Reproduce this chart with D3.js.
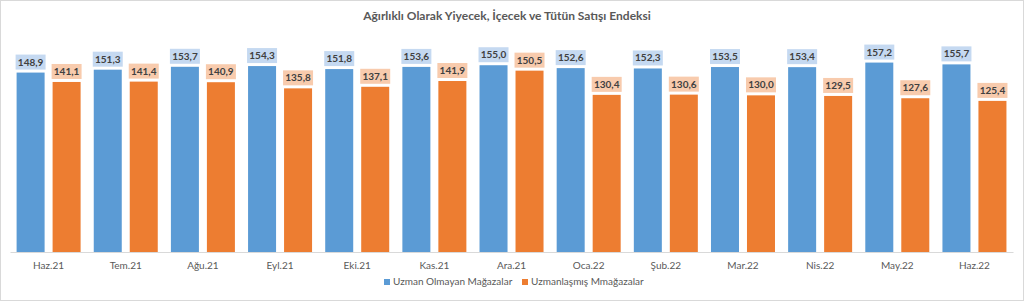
<!DOCTYPE html>
<html>
<head>
<meta charset="utf-8">
<script src="https://cdn.jsdelivr.net/npm/d3@7"></script>
<style>
  body { margin: 0; background: #fff; }
  text { font-family: Lato, "Open Sans", sans-serif; }
</style>
</head>
<body>
<svg id="chart" width="1024" height="301"></svg>
<script>
var months = ['Haz.21', 'Tem.21', 'Ağu.21', 'Eyl.21', 'Eki.21', 'Kas.21', 'Ara.21',
              'Oca.22', 'Şub.22', 'Mar.22', 'Nis.22', 'May.22', 'Haz.22'];
var nonSpecial = [148.9, 151.3, 153.7, 154.3, 151.8, 153.6, 155.0, 152.6, 152.3, 153.5, 153.4, 157.2, 155.7];
var specialised = [141.1, 141.4, 140.9, 135.8, 137.1, 141.9, 150.5, 130.4, 130.6, 130.0, 129.5, 127.6, 125.4];
var seriesNames = ['Uzman Olmayan Mağazalar', 'Uzmanlaşmış Mmağazalar'];

var W = 1024, H = 301;
var BLUE = '#5b9bd5', ORANGE = '#ed7d31',
    BLUE_LBL = '#c5d9f1', ORANGE_LBL = '#f8cbad';

var svg = d3.select('#chart');

svg.append('rect')
    .attr('x', 0.5).attr('y', 0.5)
    .attr('width', W - 1).attr('height', H - 1)
    .attr('fill', '#fff').attr('stroke', '#d9d9d9');

svg.append('text')
    .attr('x', 507).attr('y', 20)
    .attr('text-anchor', 'middle')
    .attr('font-size', 12).attr('font-weight', 'bold')
    .attr('fill', '#595959')
    .text('Ağırlıklı Olarak Yiyecek, İçecek ve Tütün Satışı Endeksi');

var x = d3.scaleBand().domain(months).range([10, 1013]);
// two bars per month, 28px wide with an 8px gap
var inner = d3.scaleBand().domain([0, 1]).range([6.6, 70.6]).paddingInner(0.222);
var y = d3.scaleLinear().domain([0, 200]).range([252, 11]);

var rows = months.map(function (m, i) {
    return { m: m, vals: [nonSpecial[i], specialised[i]] };
});

var groups = svg.selectAll('g.grp').data(rows).enter().append('g')
    .attr('class', 'grp')
    .attr('transform', function (d) { return 'translate(' + x(d.m) + ',0)'; });

var bars = groups.selectAll('g.bar').data(function (d) {
    return d.vals.map(function (v, k) { return { v: v, k: k }; });
}).enter().append('g').attr('class', 'bar');

bars.append('rect')
    .attr('x', function (d) { return inner(d.k); })
    .attr('y', function (d) { return y(d.v); })
    .attr('width', inner.bandwidth())
    .attr('height', function (d) { return y(0) - y(d.v); })
    .attr('fill', function (d) { return d.k === 0 ? BLUE : ORANGE; });

bars.append('rect')
    .attr('x', function (d) { return inner(d.k) + inner.bandwidth() / 2 - 15; })
    .attr('y', function (d) { return y(d.v) - 18; })
    .attr('width', 30).attr('height', 15)
    .attr('fill', function (d) { return d.k === 0 ? BLUE_LBL : ORANGE_LBL; });

bars.append('text')
    .attr('x', function (d) { return inner(d.k) + inner.bandwidth() / 2; })
    .attr('y', function (d) { return y(d.v) - 7; })
    .attr('text-anchor', 'middle')
    .attr('font-size', 10).attr('font-weight', 'bold')
    .attr('fill', '#404040')
    .text(function (d) { return d.v.toFixed(1).replace('.', ','); });

// baseline + category labels
var xAxis = svg.append('g').attr('transform', 'translate(0,' + y(0) + ')')
    .call(d3.axisBottom(x).tickSize(0).tickPadding(10));
xAxis.select('.domain').attr('stroke', '#d9d9d9');
xAxis.selectAll('text')
    .attr('font-size', 10).attr('fill', '#595959')
    .style('font-family', 'Lato, "Open Sans", sans-serif');

// legend
var legend = svg.append('g').attr('transform', 'translate(0,285)');
var legX = [384, 522];
seriesNames.forEach(function (name, i) {
    legend.append('rect')
        .attr('x', legX[i]).attr('y', -6)
        .attr('width', 6).attr('height', 6)
        .attr('fill', i === 0 ? BLUE : ORANGE);
    legend.append('text')
        .attr('x', legX[i] + 9).attr('y', 0)
        .attr('font-size', 10).attr('fill', '#595959')
        .text(name);
});
</script>
</body>
</html>
